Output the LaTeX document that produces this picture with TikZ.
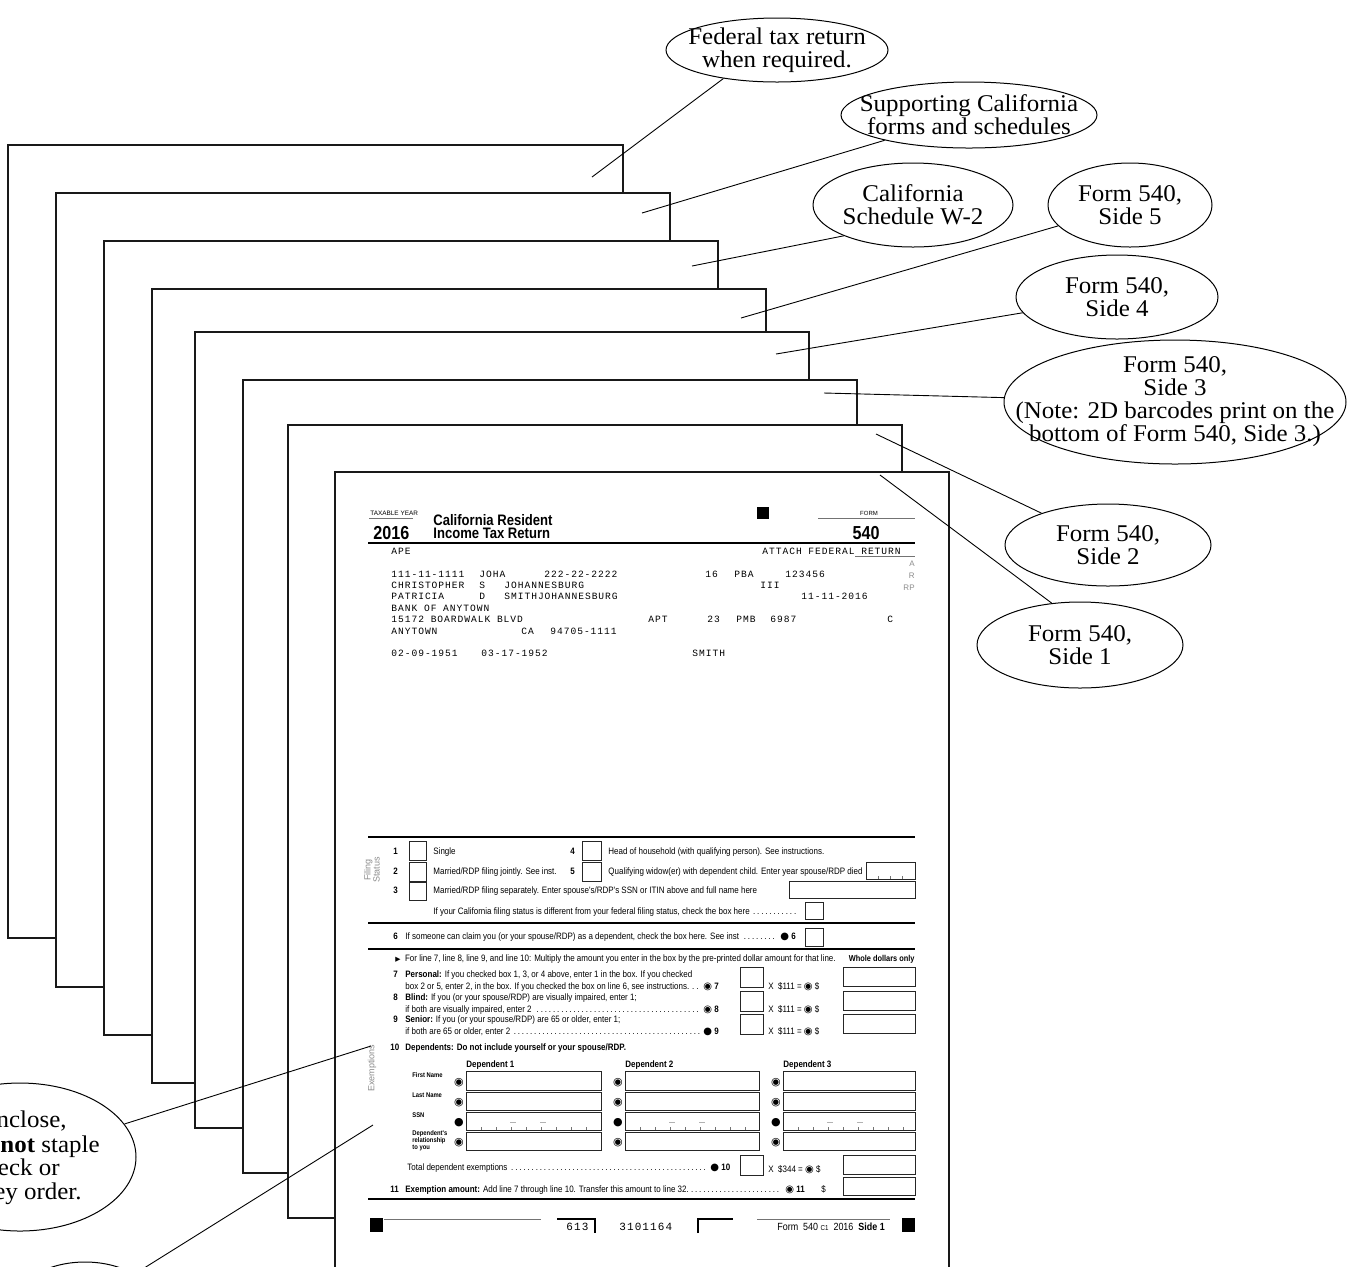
\documentclass[tikz,border=0pt]{standalone}
\usepackage{fontspec}
\setmainfont{Liberation Serif}
\newfontfamily\fcall[FakeStretch=1.04]{Liberation Serif}
\newfontfamily\fsans{Liberation Sans}
\newfontfamily\fcond[FakeStretch=0.86]{Liberation Sans}
\newfontfamily\fmono[LetterSpace=10]{Liberation Mono}
\newfontfamily\fsym{DejaVu Sans}
\usetikzlibrary{shapes.geometric}
\newcommand\myfs[1]{\fontsize{#1}{#1}\selectfont}
\newcommand\mydots[2]{\hbox to #1{#2\dotfill}}
\newcommand\callfont{\fcall\fontsize{12}{11.5}\selectfont}
\newcommand\bodyfont{\fcond\myfs{4.65}}
\newcommand\monofont{\fmono\myfs{4.8}}
\newcommand\cm{{\fsym\myfs{5}◉}}
\newcommand\cb{{\fsym\myfs{5}●}}
\begin{document}
\begin{tikzpicture}[x=0.5pt,y=-0.5pt,
  pagebox/.style={draw=black!90, line width=0.65pt, fill=white},
  callout/.style={ellipse, draw=black, line width=0.5pt, fill=white, inner sep=0pt},
  calltext/.style={align=center, inner sep=0pt, font=\callfont},
  leader/.style={draw=black, line width=0.45pt},
  ft/.style={anchor=base west, inner sep=0pt, font=\bodyfont},
  ftb/.style={anchor=base west, inner sep=0pt, font=\bodyfont\bfseries},
  tiny/.style={anchor=base west, inner sep=0pt, font=\fcond\bfseries\myfs{3.4}},
  mono/.style={anchor=base west, inner sep=0pt, font=\monofont},
  fbox/.style={draw=black!85, line width=0.45pt},
  frule/.style={draw=black, line width=0.9pt},
  thinrule/.style={draw=black!55, line width=0.35pt},
  glabel/.style={inner sep=0pt, text=black!45, font=\fsans\myfs{4.5}, rotate=90, align=center},
  sym/.style={inner sep=0pt, font=\fsym\myfs{5.5}}
]
\useasboundingbox (0,0) rectangle (1350,1266);

% ---------- stacked pages ----------
\foreach \l/\t/\r/\b in {8/145/623/938, 56/193/670/987, 104/241/718/1035,
   152/289/766/1083, 195/332/809/1128, 243/380/857/1173, 288/425/902/1218,
   335/472/949/1300}
  \draw[pagebox] (\l,\t) rectangle (\r,\b);

% ---------- Form 540 side 1 header ----------
\node[anchor=base west, inner sep=0pt, font=\fsans\myfs{3.2}] (ty) at (370,515) {TAXABLE YEAR};
\draw[thinrule] (369,518) -- (413,518);
\node[anchor=base west, inner sep=0pt, font=\fcond\bfseries\myfs{9.4}] (yr) at (373,539) {2016};
\node[anchor=base west, inner sep=0pt, font=\fcond\bfseries\myfs{7.6}] (ttl1) at (433,525) {California Resident};
\node[anchor=base west, inner sep=0pt, font=\fcond\bfseries\myfs{7.6}] (ttl2) at (433,538) {Income Tax Return};
\fill (757,507) rectangle (769,519);
\draw[thinrule] (818,518) -- (915,518);
\node[anchor=base, inner sep=0pt, font=\fsans\myfs{3}] (frm) at (869,515) {FORM};
\node[anchor=base east, inner sep=0pt, font=\fcond\bfseries\myfs{9.4}] (f540) at (880,539) {540};
\draw[line width=1.3pt] (368,543) -- (915,543);

\node[mono] (ape) at (391,554) {APE};
\node[mono] (att) at (762,554) {ATTACH FEDERAL RETURN};
\draw[thinrule] (855,556) -- (915,556);
\node[anchor=base east, inner sep=0pt, font=\fsans\myfs{4}, text=black!45] (la) at (915,566) {A};
\node[anchor=base east, inner sep=0pt, font=\fsans\myfs{4}, text=black!45] (lr) at (915,578) {R};
\node[anchor=base east, inner sep=0pt, font=\fsans\myfs{4}, text=black!45] (lrp) at (915,590) {RP};

\node[mono] (m1a) at (391,577) {111-11-1111};
\node[mono] (m1b) at (479,577) {JOHA};
\node[mono] (m1c) at (544,577) {222-22-2222};
\node[mono] (m1d) at (705,577) {16};
\node[mono] (m1e) at (734,577) {PBA};
\node[mono] (m1f) at (785,577) {123456};
\node[mono] (m2a) at (391,588) {CHRISTOPHER};
\node[mono] (m2b) at (479,588) {S};
\node[mono] (m2c) at (504,588) {JOHANNESBURG};
\node[mono] (m2d) at (760,588) {III};
\node[mono] (m3a) at (391,599) {PATRICIA};
\node[mono] (m3b) at (479,599) {D};
\node[mono] (m3c) at (504,599) {SMITHJOHANNESBURG};
\node[mono] (m3d) at (801,599) {11-11-2016};
\node[mono] (m4a) at (391,611) {BANK OF ANYTOWN};
\node[mono] (m5a) at (391,622) {15172 BOARDWALK BLVD};
\node[mono] (m5b) at (648,622) {APT};
\node[mono] (m5c) at (707,622) {23};
\node[mono] (m5d) at (736,622) {PMB};
\node[mono] (m5e) at (770,622) {6987};
\node[mono] (m5f) at (887,622) {C};
\node[mono] (m6a) at (391,634) {ANYTOWN};
\node[mono] (m6b) at (521,634) {CA};
\node[mono] (m6c) at (550,634) {94705-1111};
\node[mono] (m7a) at (391,656) {02-09-1951};
\node[mono] (m7b) at (481,656) {03-17-1952};
\node[mono] (m7c) at (692,656) {SMITH};

% ---------- Filing status ----------
\draw[frule] (368,837) -- (915,837);
\node[glabel] (fslab) at (372,870) {Filing\\Status};
\node[ftb] (n1) at (393,854) {1};
\draw[fbox] (409,841) rectangle (426,860);
\node[ft] (s1t) at (433,854) {Single};
\node[ftb] (n4) at (570,854) {4};
\draw[fbox] (582,841) rectangle (601,860);
\node[ft] (s4t) at (608,854) {Head of household (with qualifying person). See instructions.};
\node[ftb] (n2) at (393,874) {2};
\draw[fbox] (409,862) rectangle (426,881);
\node[ft] (s2t) at (433,874) {Married/RDP filing jointly. See inst.};
\node[ftb] (n5) at (570,874) {5};
\draw[fbox] (582,862) rectangle (601,881);
\node[ft] (s5t) at (608,874) {Qualifying widow(er) with dependent child. Enter year spouse/RDP died};
\draw[fbox] (866,862) rectangle (915,879);
\foreach \x in {878,890,902} \draw[thinrule] (\x,876) -- (\x,879);
\node[ftb] (n3) at (393,893) {3};
\draw[fbox] (409,882) rectangle (426,900);
\node[ft] (s3t) at (433,893) {Married/RDP filing separately. Enter spouse's/RDP's SSN or ITIN above and full name here};
\draw[fbox] (789,881) rectangle (915,898);
\node[ft] (sdt) at (433,914) {\mydots{182pt}{If your California filing status is different from your federal filing status, check the box here }};
\draw[fbox] (805,902) rectangle (823,919);
\draw[draw=black, line width=0.6pt] (368,923) -- (915,923);
\node[ftb] (n6) at (393,939) {6};
\node[ft] (s6t) at (405,939) {\mydots{186pt}{If someone can claim you (or your spouse/RDP) as a dependent, check the box here. See inst }};
\node[ft] (s6m) at (780,939) {\cb\ \textbf{6}};
\draw[fbox] (805,928) rectangle (823,946);
\draw[frule] (368,949) -- (915,949);

% ---------- Exemptions ----------
\node[glabel] (exlab) at (372,1068) {Exemptions};
\node[ft] (hdr) at (395,961) {{\fsym\myfs{3.4}▶}\ \ For line 7, line 8, line 9, and line 10: Multiply the amount you enter in the box by the pre-printed dollar amount for that line.};
\node[anchor=base east, inner sep=0pt, font=\fcond\bfseries\myfs{4.3}] (wdo) at (915,961) {Whole dollars only};

\node[ftb] (n7) at (393,977) {7};
\node[ft] (l7a) at (405,977) {\textbf{Personal:} If you checked box 1, 3, or 4 above, enter 1 in the box. If you checked};
\node[ft] (l7b) at (405,989) {\mydots{148pt}{box 2 or 5, enter 2, in the box. If you checked the box on line 6, see instructions.}};
\node[ft] (l7c) at (703,989) {\cm\ \textbf{7}};
\draw[fbox] (740,967) rectangle (763,987);
\node[ft] (l7d) at (768,989) {X\ \ \$111 =\ \cm\ \$};
\draw[fbox] (843,967) rectangle (915,986);

\node[ftb] (n8) at (393,1000) {8};
\node[ft] (l8a) at (405,1000) {\textbf{Blind:} If you (or your spouse/RDP) are visually impaired, enter 1;};
\node[ft] (l8b) at (405,1012) {\mydots{148pt}{if both are visually impaired, enter 2 }};
\node[ft] (l8c) at (703,1012) {\cm\ \textbf{8}};
\draw[fbox] (740,991) rectangle (763,1011);
\node[ft] (l8d) at (768,1012) {X\ \ \$111 =\ \cm\ \$};
\draw[fbox] (843,991) rectangle (915,1010);

\node[ftb] (n9) at (393,1022) {9};
\node[ft] (l9a) at (405,1022) {\textbf{Senior:} If you (or your spouse/RDP) are 65 or older, enter 1;};
\node[ft] (l9b) at (405,1034) {\mydots{148pt}{if both are 65 or older, enter 2 }};
\node[ft] (l9c) at (703,1034) {\cb\ \textbf{9}};
\draw[fbox] (740,1014) rectangle (763,1034);
\node[ft] (l9d) at (768,1034) {X\ \ \$111 =\ \cm\ \$};
\draw[fbox] (843,1014) rectangle (915,1033);

\node[ftb] (n10) at (390,1050) {10};
\node[ftb] (l10) at (405,1050) {Dependents: Do not include yourself or your spouse/RDP.};

\node[ftb] (d1h) at (466,1067) {\underline{Dependent 1}};
\node[ftb] (d2h) at (625,1067) {\underline{Dependent 2}};
\node[ftb] (d3h) at (783,1067) {\underline{Dependent 3}};
\node[tiny] (lfn) at (412,1077) {First Name};
\node[tiny] (lln) at (412,1097) {Last Name};
\node[tiny] (lssn) at (412,1117) {SSN};
\node[tiny] (lrel1) at (412,1135) {Dependent's};
\node[tiny] (lrel2) at (412,1142) {relationship};
\node[tiny] (lrel3) at (412,1149) {to you};
\foreach \l/\r/\m in {466/601/459, 625/759/618, 783/915/776}{
  \draw[fbox] (\l,1071) rectangle (\r,1090);
  \draw[fbox] (\l,1092) rectangle (\r,1110);
  \draw[fbox] (\l,1112) rectangle (\r,1130);
  \draw[fbox] (\l,1132) rectangle (\r,1150);
  \foreach \k in {1,...,8} \draw[thinrule] (\l+15*\k,1127) -- (\l+15*\k,1130);
  \draw[draw=black!30, line width=0.3pt] (\l+44,1122) -- (\l+50,1122);
  \draw[draw=black!30, line width=0.3pt] (\l+74,1122) -- (\l+80,1122);
  \node[sym] at (\m,1083) {◉};
  \node[sym] at (\m,1103) {◉};
  \node[sym] at (\m,1123) {●};
  \node[sym] at (\m,1143) {◉};
}
\node[ft] (tde) at (407,1170) {\mydots{150pt}{Total dependent exemptions }};
\node[ft] (tdm) at (710,1170) {\cb\ \textbf{10}};
\draw[fbox] (740,1155) rectangle (763,1175);
\node[ft] (tdx) at (768,1172) {X\ \ \$344 =\ \cm\ \$};
\draw[fbox] (843,1155) rectangle (915,1174);

\node[ftb] (n11) at (390,1192) {11};
\node[ft] (l11) at (405,1192) {\mydots{188pt}{\textbf{Exemption amount:} Add line 7 through line 10. Transfer this amount to line 32.}};
\node[ft] (l11m) at (785,1192) {\cm\ \textbf{11}};
\node[ft] (l11d) at (821,1192) {\$};
\draw[fbox] (843,1177) rectangle (915,1195);
\draw[frule] (368,1199) -- (915,1199);

% ---------- bottom strip ----------
\fill (370,1218) rectangle (383,1232);
\draw[thinrule] (384,1219) -- (541,1219);
\draw[line width=0.9pt] (557,1219) -- (595,1219) -- (595,1233);
\node[anchor=base west, inner sep=0pt, font=\fmono\myfs{5.5}] (b613) at (566,1230) {613};
\node[anchor=base west, inner sep=0pt, font=\fmono\myfs{5.5}] (bnum) at (619,1230) {3101164};
\draw[line width=0.9pt] (698,1233) -- (698,1219) -- (733,1219);
\draw[thinrule] (757,1219) -- (890,1219);
\node[anchor=base west, inner sep=0pt, font=\fcond\myfs{5.2}] (bform) at (777,1230) {Form\ \ 540 {\myfs{3.6}C1}\ \ 2016\ \ \textbf{Side 1}};
\fill (902,1218) rectangle (915,1232);

% ---------- callouts ----------
\node[callout, minimum width=111pt, minimum height=32pt] (fed) at (777,50) {};
\node[calltext] at (fed) {Federal tax return\\when required.};
\node[callout, minimum width=128pt, minimum height=33pt] (supp) at (969,115) {};
\node[calltext] at (supp) {Supporting California\\forms and schedules};
\node[callout, minimum width=100pt, minimum height=42pt] (w2) at (913,205) {};
\node[calltext] at (w2) {California\\Schedule W-2};
\node[callout, minimum width=82pt, minimum height=42pt] (s5) at (1130,205) {};
\node[calltext] at (s5) {Form 540,\\Side 5};
\node[callout, minimum width=101pt, minimum height=42pt] (s4) at (1117,297) {};
\node[calltext] at (s4) {Form 540,\\Side 4};
\node[callout, minimum width=171pt, minimum height=62pt] (s3) at (1175,402) {};
\node[calltext] at (s3) {Form 540,\\Side 3\\(Note: 2D barcodes print on the\\bottom of Form 540, Side 3.)};
\node[callout, minimum width=103pt, minimum height=41pt] (s2) at (1108,545) {};
\node[calltext] at (s2) {Form 540,\\Side 2};
\node[callout, minimum width=103pt, minimum height=43pt] (s1) at (1080,645) {};
\node[calltext] at (s1) {Form 540,\\Side 1};
\node[callout, minimum width=116pt, minimum height=74pt] (encl) at (20,1157) {};
\node[anchor=base east, inner sep=0pt, font=\callfont] (e1) at (67,1127) {Enclose,};
\node[anchor=base east, inner sep=0pt, font=\callfont] (e2) at (100,1152) {but do \textbf{not} staple};
\node[anchor=base east, inner sep=0pt, font=\callfont] (e3) at (60,1175) {check or};
\node[anchor=base east, inner sep=0pt, font=\callfont] (e4) at (82,1199) {money order.};
\node[callout, minimum width=70pt, minimum height=43pt] (pay) at (85,1305) {};

% ---------- leaders ----------
\coordinate (tfed) at (592,177);
\coordinate (tsupp) at (642,213);
\coordinate (tw2) at (692,266);
\coordinate (ts5) at (741,318);
\coordinate (ts4) at (776,354);
\coordinate (ts3) at (824,393);
\coordinate (ts2) at (876,434);
\coordinate (ts1) at (880,475);
\coordinate (tencl) at (371,1046);
\coordinate (tpay) at (373,1125);
\draw[leader] (fed.208) -- (tfed);
\draw[leader] (supp) -- (tsupp);
\draw[leader] (w2.204) -- (tw2);
\draw[leader] (s5) -- (ts5);
\draw[leader] (s4) -- (ts4);
\draw[leader] (s3) -- (ts3);
\draw[leader] (s2) -- (ts2);
\draw[leader] (s1.124) -- (ts1);
\draw[leader] (encl) -- (tencl);
\draw[leader] (pay) -- (tpay);
\end{tikzpicture}
\end{document}
